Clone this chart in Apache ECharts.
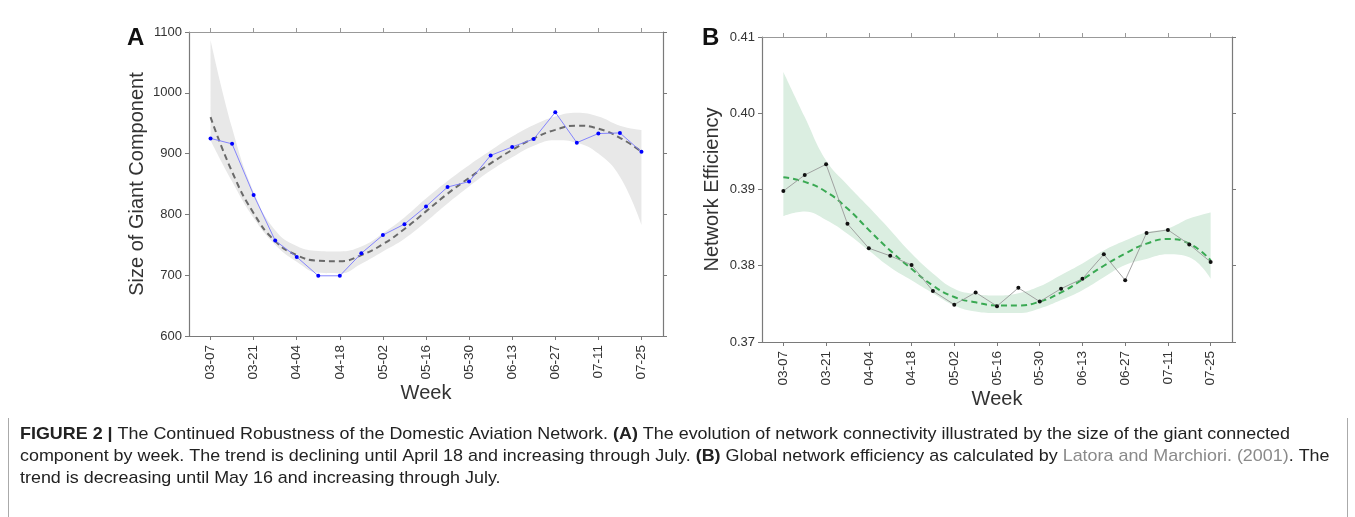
<!DOCTYPE html>
<html><head><meta charset="utf-8">
<script src="https://cdn.jsdelivr.net/npm/echarts@6/dist/echarts.min.js"></script>
<style>html,body{margin:0;padding:0;background:#fff;}#c{width:1355px;height:517px;}</style>
</head><body><div id="c"></div>
<script>
// ---------- data ----------
const weeks = ['03-07','03-14','03-21','03-28','04-04','04-11','04-18','04-25','05-02','05-09','05-16',
               '05-23','05-30','06-06','06-13','06-20','06-27','07-04','07-11','07-18','07-25'];

// Panel A: size of giant component
const giantSize  = [925,916,832,757,730,699,699,736,766,784,813,845,854,897,911,924,968,918,933,934,903];
const giantTrend = [960,870,802,756,733,724,723,733,751,776,805,834,860,884,906,925,939,946,941,926,903];
const giantUpper = [1087,942,837,774,748,740,739,747,769,795,826,855,881,905,928,947,961,967,961,946,939];
const giantLower = [922,854,794,750,722,704,703,719,739,760,788,818,846,872,894,913,922,918,900,862,783];

// Panel B: network efficiency
const effObs   = [0.3898,0.3919,0.3933,0.3855,0.3823,0.3813,0.3801,0.3767,0.3749,0.3765,0.3747,
                  0.3771,0.3753,0.3770,0.3783,0.3815,0.3781,0.3843,0.3847,0.3828,0.3805];
const effTrend = [0.3916,0.3910,0.3897,0.3875,0.3847,0.3820,0.3796,0.3774,0.3759,0.3752,0.3748,
                  0.3748,0.3753,0.3765,0.3782,0.3800,0.3816,0.3829,0.3835,0.3829,0.3807];
const effUpper = [0.4054,0.3995,0.3938,0.3906,0.3877,0.3847,0.3816,0.3790,0.3770,0.3763,0.3761,
                  0.3764,0.3773,0.3788,0.3803,0.3820,0.3833,0.3844,0.3849,0.3862,0.3870];
const effLower = [0.3865,0.3871,0.3860,0.3842,0.3820,0.3798,0.3781,0.3764,0.3748,0.3740,0.3738,
                  0.3738,0.3744,0.3755,0.3768,0.3785,0.3801,0.3809,0.3815,0.3811,0.3783];

// ---------- helpers ----------
const FONT = '"Liberation Sans", Arial, Helvetica, sans-serif';
const AX = '#7a7a7a';
// one empty slot before and after the weeks gives the one-week margin on each side
const cats = [' ', ...weeks, '  '];
const pad = arr => [null, ...arr, null];
const diff = (u,l) => pad(u.map((v,i)=>v - l[i]));
const showTick = idx => idx % 2 === 1;

function xAxes(grid){
  return [{
    gridIndex:grid, type:'category', data:cats, boundaryGap:false, position:'bottom',
    axisLine:{show:true,onZero:false,lineStyle:{color:AX,width:1.2}},
    axisTick:{show:true,interval:showTick,length:4,lineStyle:{color:AX}},
    axisLabel:{interval:showTick,rotate:90,margin:9,
               fontSize:13.5,color:'#333',fontFamily:FONT},
    splitLine:{show:false},
    name:'Week', nameLocation:'middle', nameGap:47, nameMoveOverlap:false,
    nameTextStyle:{fontSize:20,color:'#333',fontFamily:FONT}
  },{
    gridIndex:grid, type:'category', data:cats, boundaryGap:false, position:'top',
    axisLine:{show:true,onZero:false,lineStyle:{color:'#999',width:1}},
    axisTick:{show:true,interval:showTick,length:4,lineStyle:{color:'#999'}},
    axisLabel:{show:false}, splitLine:{show:false}
  }];
}
function yAxes(grid,min,max,interval,name,gap,fmt){
  return [{
    gridIndex:grid, type:'value', min:min, max:max, interval:interval, position:'left',
    axisLine:{show:true,onZero:false,lineStyle:{color:AX,width:1.2}},
    axisTick:{show:true,length:4,lineStyle:{color:AX}},
    axisLabel:{margin:7,fontSize:13,color:'#333',fontFamily:FONT,formatter:fmt},
    splitLine:{show:false},
    name:name, nameLocation:'middle', nameGap:gap, nameMoveOverlap:false,
    nameTextStyle:{fontSize:20,color:'#333',fontFamily:FONT}
  },{
    gridIndex:grid, type:'value', min:min, max:max, interval:interval, position:'right',
    axisLine:{show:true,onZero:false,lineStyle:{color:AX,width:1.2}},
    axisTick:{show:true,length:4,lineStyle:{color:AX}},
    axisLabel:{show:false}, splitLine:{show:false}
  }];
}
function panelSeries(xi,yi,obs,trend,upper,lower,bandColor,trendColor,ptColor,lineColor,stack){
  return [
    {type:'line',xAxisIndex:xi,yAxisIndex:yi,data:pad(lower),stack:stack,smooth:0.45,
     symbol:'none',lineStyle:{opacity:0},silent:true,z:1},
    {type:'line',xAxisIndex:xi,yAxisIndex:yi,data:diff(upper,lower),stack:stack,smooth:0.45,
     symbol:'none',lineStyle:{opacity:0},areaStyle:{color:bandColor,opacity:1},silent:true,z:1},
    {type:'line',xAxisIndex:xi,yAxisIndex:yi,data:pad(trend),smooth:true,symbol:'none',
     lineStyle:{color:trendColor,width:2,type:[6,4]},silent:true,z:3},
    {type:'line',xAxisIndex:xi,yAxisIndex:yi,data:pad(obs),symbol:'circle',symbolSize:4,
     itemStyle:{color:ptColor},lineStyle:{color:lineColor,width:0.9},silent:true,z:4}
  ];
}

// ---------- caption ----------
const capSize = 17;
const capLines = [
  [['b','FIGURE 2 |'],['n',' The Continued Robustness of the Domestic Aviation Network. '],['b','(A)'],
   ['n',' The evolution of network connectivity illustrated by the size of the giant connected']],
  [['n','component by week. The trend is declining until April 18 and increasing through July. '],['b','(B)'],
   ['n',' Global network efficiency as calculated by '],['g','Latora and Marchiori. (2001)'],['n','. The']],
  [['n','trend is decreasing until May 16 and increasing through July.']]
];
const ctx = document.createElement('canvas').getContext('2d');
function lineWidth(segs){
  let w = 0;
  segs.forEach(([t,s])=>{
    ctx.font = (t==='b'?'bold ':'') + capSize + 'px ' + FONT;
    w += ctx.measureText(s).width;
  });
  return w;
}
const capScale = 1270 / lineWidth(capLines[0]);
const capGraphics = capLines.map((segs,i)=>({
  type:'text', x:20, y:434 + i*22, scaleX:capScale, silent:true,
  style:{
    text: segs.map(([t,s])=>'{'+t+'|'+s+'}').join(''),
    rich:{
      b:{fontWeight:'bold',fontSize:capSize,fontFamily:FONT,fill:'#222'},
      n:{fontSize:capSize,fontFamily:FONT,fill:'#222'},
      g:{fontSize:capSize,fontFamily:FONT,fill:'#8a8a8a'}
    },
    fontSize:capSize, fontFamily:FONT, verticalAlign:'middle', align:'left'
  }
}));

const chart = echarts.init(document.getElementById('c'), null, {renderer:'canvas'});
chart.setOption({
  animation:false,
  backgroundColor:'#fff',
  grid:[
    {left:189, top:32, width:474, height:304, outerBoundsMode:'none'},
    {left:762, top:37, width:470, height:305, outerBoundsMode:'none'}
  ],
  xAxis:[...xAxes(0), ...xAxes(1)],
  yAxis:[
    ...yAxes(0,600,1100,100,'Size of Giant Component',42,v=>String(v)),
    ...yAxes(1,0.37,0.41,0.01,'Network Efficiency',40,v=>v.toFixed(2))
  ],
  series:[
    ...panelSeries(0,0,giantSize,giantTrend,giantUpper,giantLower,'#e8e8e8','#6a6a6a','#0000ff','#7878ff','bandA'),
    ...panelSeries(2,2,effObs,effTrend,effUpper,effLower,'#dbeee1','#3aa953','#111111','#999999','bandB')
  ],
  graphic:[
    {type:'text',left:127,top:26,silent:true,style:{text:'A',fontSize:24,fontWeight:'bold',fontFamily:FONT,fill:'#111'}},
    {type:'text',left:702,top:26,silent:true,style:{text:'B',fontSize:24,fontWeight:'bold',fontFamily:FONT,fill:'#111'}},
    {type:'line',silent:true,shape:{x1:8.5,y1:418,x2:8.5,y2:517},style:{stroke:'#aaa',lineWidth:1}},
    {type:'line',silent:true,shape:{x1:1347.5,y1:418,x2:1347.5,y2:517},style:{stroke:'#aaa',lineWidth:1}},
    ...capGraphics
  ]
});
</script></body></html>
